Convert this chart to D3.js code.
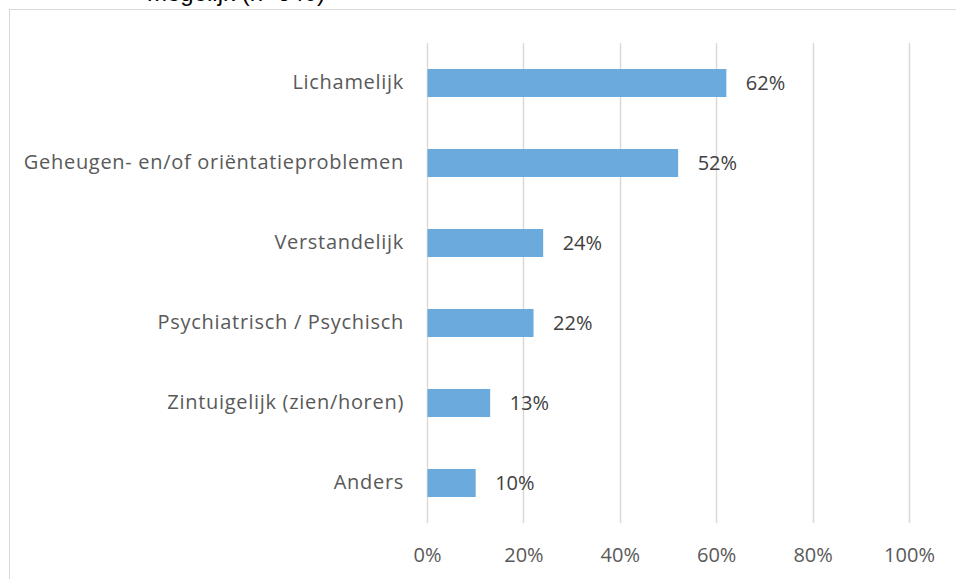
<!DOCTYPE html>
<html>
<head>
<meta charset="utf-8">
<script src="https://cdn.jsdelivr.net/npm/d3@7"></script>
<style>
  body { margin: 0; background: #fff; }
  svg { display: block; }
</style>
</head>
<body>
<div id="chart"></div>
<script>
const CATEGORIES = ["Lichamelijk", "Geheugen- en/of oriëntatieproblemen", "Verstandelijk",
                    "Psychiatrisch / Psychisch", "Zintuigelijk (zien/horen)", "Anders"];
const VALUES = [0.62, 0.52, 0.24, 0.22, 0.13, 0.10];
const TICKS = [0, 0.2, 0.4, 0.6, 0.8, 1.0];
const TITLE = "mogelijk (n=640)";

const FRAME_WIDTH = 956;
const FRAME_HEIGHT = 579;
const MARGINS = {left: 427, right: 47, top: 43, bottom: 56};

const VIS_WIDTH = FRAME_WIDTH - MARGINS.left - MARGINS.right;
const VIS_HEIGHT = FRAME_HEIGHT - MARGINS.top - MARGINS.bottom;

const FONT = "Open Sans, sans-serif";

const FRAME = d3.select("#chart")
                .append("svg")
                  .attr("width", FRAME_WIDTH)
                  .attr("height", FRAME_HEIGHT);

// chart area border (runs off the right and bottom)
FRAME.append("rect")
      .attr("x", 9.5)
      .attr("y", 9.5)
      .attr("width", FRAME_WIDTH + 20)
      .attr("height", FRAME_HEIGHT + 20)
      .attr("fill", "none")
      .attr("stroke", "#d9d9d9")
      .attr("stroke-width", 1);

// title, mostly cut off at the top
FRAME.append("text")
      .attr("x", 147)
      .attr("y", 1)
      .attr("font-family", "Liberation Sans, Arial, sans-serif")
      .attr("font-size", "24px")
      .attr("fill", "#000")
      .text(TITLE);

const X_SCALE = d3.scaleLinear()
                  .domain([0, 1])
                  .range([0, VIS_WIDTH]);

const Y_SCALE = d3.scaleBand()
                  .domain(CATEGORIES)
                  .range([0, VIS_HEIGHT])
                  .paddingInner(0.65)
                  .paddingOuter(0.325);

const G = FRAME.append("g")
               .attr("transform", "translate(" + MARGINS.left + "," + MARGINS.top + ")");

// gridlines
G.selectAll(".grid")
  .data(TICKS)
  .enter()
  .append("line")
    .attr("x1", (d) => Math.round(X_SCALE(d)) + 0.5)
    .attr("x2", (d) => Math.round(X_SCALE(d)) + 0.5)
    .attr("y1", 0)
    .attr("y2", VIS_HEIGHT)
    .attr("stroke", "#d9d9d9")
    .attr("stroke-width", 1.5);

// bars
G.selectAll(".bar")
  .data(CATEGORIES)
  .enter()
  .append("rect")
    .attr("x", X_SCALE(0) + 0.5)
    .attr("y", (d) => Y_SCALE(d))
    .attr("width", (d, i) => X_SCALE(VALUES[i]))
    .attr("height", Y_SCALE.bandwidth())
    .attr("fill", "#6aaadc");

// value labels
G.selectAll(".val")
  .data(CATEGORIES)
  .enter()
  .append("text")
    .attr("x", (d, i) => X_SCALE(VALUES[i]) + 20)
    .attr("y", (d) => Y_SCALE(d) + Y_SCALE.bandwidth() / 2)
    .attr("dy", "0.35em")
    .attr("font-family", FONT)
    .attr("font-size", "20px")
    .attr("fill", "#404040")
    .text((d, i) => Math.round(VALUES[i] * 100) + "%");

// y axis labels
const Y_AXIS = G.append("g")
                .call(d3.axisLeft(Y_SCALE).tickSize(0).tickPadding(23));
Y_AXIS.select(".domain").remove();
Y_AXIS.selectAll("text")
      .attr("font-family", FONT)
      .attr("font-size", "20px")
      .attr("letter-spacing", "0.7px")
      .attr("fill", "#595959");

// x axis labels
const X_AXIS = G.append("g")
                .attr("transform", "translate(0," + VIS_HEIGHT + ")")
                .call(d3.axisBottom(X_SCALE).tickValues(TICKS).tickSize(0).tickPadding(25)
                        .tickFormat(d3.format(".0%")));
X_AXIS.select(".domain").remove();
X_AXIS.selectAll("text")
      .attr("font-family", FONT)
      .attr("font-size", "20px")
      .attr("fill", "#595959");
</script>
</body>
</html>
